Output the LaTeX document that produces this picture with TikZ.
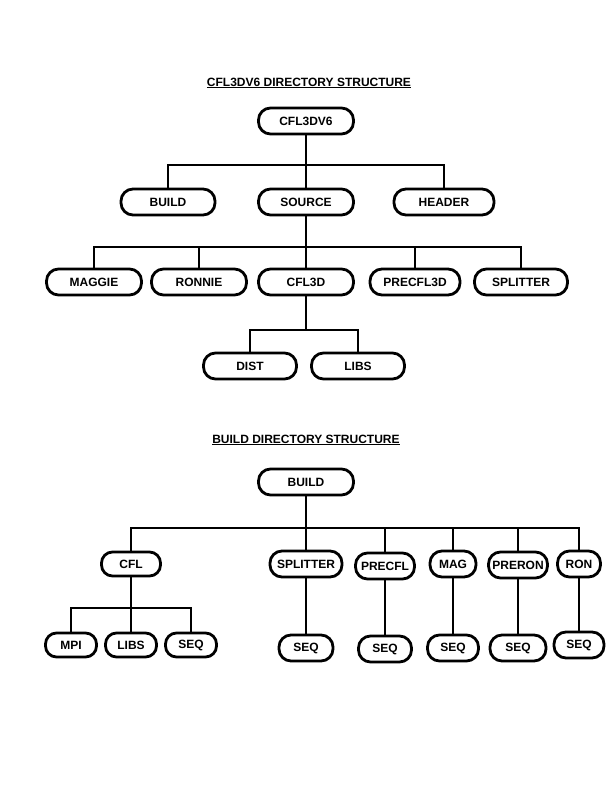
\documentclass[tikz,border=0pt]{standalone}
\usepackage{fontspec}
\setmainfont{Liberation Sans}
\begin{document}
\begin{tikzpicture}[x=1pt,y=-1pt,
  dirbox/.style={draw, line width=2.8pt, rounded corners=12pt, minimum height=26pt, inner sep=0pt,
    font=\fontsize{12}{14}\selectfont\bfseries},
  smallbox/.style={dirbox, rounded corners=11pt, minimum height=24pt},
  conn/.style={line width=2.8pt},
  ttl/.style={font=\fontsize{12}{14}\selectfont\bfseries, inner sep=0pt}]
\useasboundingbox (0,0) rectangle (613,793);
% ---- top tree
\node[ttl] (t1) at (309,83) {\underline{CFL3DV6 DIRECTORY STRUCTURE}};
\node[dirbox, minimum width=95pt] (root) at (306,121) {CFL3DV6};
\node[dirbox, minimum width=94pt] (build) at (168,202) {BUILD};
\node[dirbox, minimum width=95pt] (source) at (306,202) {SOURCE};
\node[dirbox, minimum width=100pt] (header) at (444,202) {HEADER};
\coordinate (b1) at (306,165);
\draw[conn] (root.south) -- (b1);
\draw[conn] (build.north) |- (b1) -| (header.north);
\draw[conn] (b1) -- (source.north);

\node[dirbox, minimum width=95pt] (maggie) at (94,282) {MAGGIE};
\node[dirbox, minimum width=95pt] (ronnie) at (199,282) {RONNIE};
\node[dirbox, minimum width=95pt] (cfl3d) at (306,282) {CFL3D};
\node[dirbox, minimum width=90pt] (precfl3d) at (415,282) {PRECFL3D};
\node[dirbox, minimum width=93pt] (splitter) at (521,282) {SPLITTER};
\coordinate (b2) at (306,247);
\draw[conn] (source.south) -- (b2);
\draw[conn] (maggie.north) |- (b2) -| (splitter.north);
\draw[conn] (ronnie.north) -- (ronnie.north |- b2);
\draw[conn] (precfl3d.north) -- (precfl3d.north |- b2);
\draw[conn] (b2) -- (cfl3d.north);

\node[dirbox, minimum width=93pt] (dist) at (250,366) {DIST};
\node[dirbox, minimum width=93pt] (libs) at (358,366) {LIBS};
\coordinate (b3) at (306,330);
\draw[conn] (cfl3d.south) -- (b3);
\draw[conn] (dist.north) |- (b3) -| (libs.north);

% ---- bottom tree
\node[ttl] (t2) at (306,440) {\underline{BUILD DIRECTORY STRUCTURE}};
\node[dirbox, minimum width=95pt] (broot) at (306,482) {BUILD};
\node[smallbox, minimum width=59pt] (cfl) at (131,564) {CFL};
\node[dirbox, minimum width=72pt] (bsplit) at (306,564) {SPLITTER};
\node[dirbox, minimum width=59pt] (precfl) at (385,566) {PRECFL};
\node[dirbox, minimum width=46pt] (mag) at (453,564) {MAG};
\node[dirbox, minimum width=59pt] (preron) at (518,565) {PRERON};
\node[dirbox, minimum width=43pt] (ron) at (579,564) {RON};
\coordinate (b4) at (306,528);
\draw[conn] (broot.south) -- (b4);
\draw[conn] (cfl.north) |- (b4) -| (ron.north);
\draw[conn] (b4) -- (bsplit.north);
\draw[conn] (precfl.north) -- (precfl.north |- b4);
\draw[conn] (mag.north) -- (mag.north |- b4);
\draw[conn] (preron.north) -- (preron.north |- b4);

\node[smallbox, minimum width=51pt] (mpi) at (71,645) {MPI};
\node[smallbox, minimum width=51pt] (blibs) at (131,645) {LIBS};
\node[smallbox, minimum width=51pt] (cseq) at (191,645) {SEQ};
\coordinate (b5) at (131,608);
\draw[conn] (cfl.south) -- (b5);
\draw[conn] (mpi.north) |- (b5) -| (cseq.north);
\draw[conn] (b5) -- (blibs.north);

\node[dirbox, minimum width=54pt] (sseq) at (306,648) {SEQ};
\node[dirbox, minimum width=53pt] (pseq) at (385,649) {SEQ};
\node[dirbox, minimum width=51pt] (mseq) at (453,648) {SEQ};
\node[dirbox, minimum width=56pt] (prseq) at (518,648) {SEQ};
\node[dirbox, minimum width=50pt] (rseq) at (579,645) {SEQ};
\draw[conn] (bsplit.south) -- (sseq.north);
\draw[conn] (precfl.south) -- (pseq.north);
\draw[conn] (mag.south) -- (mseq.north);
\draw[conn] (preron.south) -- (prseq.north);
\draw[conn] (ron.south) -- (rseq.north);
\end{tikzpicture}
\end{document}
